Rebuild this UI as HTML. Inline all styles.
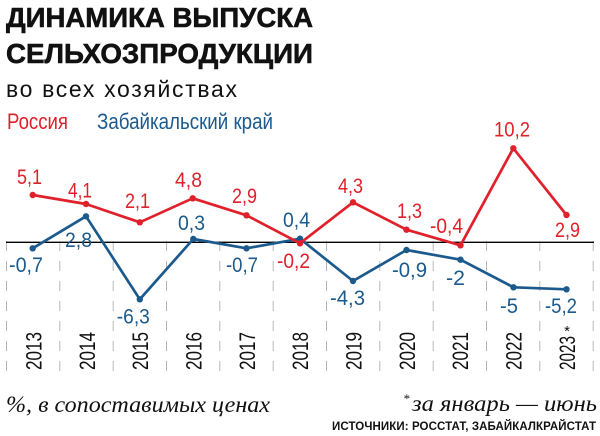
<!DOCTYPE html>
<html>
<head>
<meta charset="utf-8">
<style>
  html, body { margin: 0; padding: 0; background: #ffffff; }
  body { width: 600px; height: 436px; overflow: hidden; }
  svg { display: block; }
  .sans { font-family: "Liberation Sans", "DejaVu Sans", sans-serif; }
  .serif { font-family: "Liberation Serif", "DejaVu Serif", serif; font-style: italic; }
</style>
</head>
<body>
<svg width="600" height="436" viewBox="0 0 600 436" xmlns="http://www.w3.org/2000/svg">
  <rect x="0" y="0" width="600" height="436" fill="#ffffff"/>

  <!-- Title -->
  <text class="sans" x="6" y="27" font-size="28" font-weight="bold" fill="#111" stroke="#111" stroke-width="0.6" textLength="307" lengthAdjust="spacingAndGlyphs">ДИНАМИКА ВЫПУСКА</text>
  <text class="sans" x="6" y="63" font-size="28" font-weight="bold" fill="#111" stroke="#111" stroke-width="0.6" textLength="307" lengthAdjust="spacingAndGlyphs">СЕЛЬХОЗПРОДУКЦИИ</text>
  <text class="sans" x="6" y="97" font-size="23" fill="#111" textLength="231" lengthAdjust="spacing">во всех хозяйствах</text>

  <!-- Legend -->
  <text class="sans" x="7" y="129" font-size="22" fill="#e0202a" textLength="61" lengthAdjust="spacingAndGlyphs">Россия</text>
  <text class="sans" x="97" y="129" font-size="22" fill="#1c5a8d" textLength="176" lengthAdjust="spacingAndGlyphs">Забайкальский край</text>

  <!-- Dashed vertical grid -->
  <g stroke="#b8b8b8" stroke-width="1" stroke-dasharray="10 10">
    <line x1="6.5" y1="241" x2="6.5" y2="372"/>
    <line x1="59.8" y1="241" x2="59.8" y2="372"/>
    <line x1="113.2" y1="241" x2="113.2" y2="372"/>
    <line x1="166.5" y1="241" x2="166.5" y2="372"/>
    <line x1="219.8" y1="241" x2="219.8" y2="372"/>
    <line x1="273.2" y1="241" x2="273.2" y2="372"/>
    <line x1="326.5" y1="241" x2="326.5" y2="372"/>
    <line x1="379.8" y1="241" x2="379.8" y2="372"/>
    <line x1="433.2" y1="241" x2="433.2" y2="372"/>
    <line x1="486.5" y1="241" x2="486.5" y2="372"/>
    <line x1="539.8" y1="241" x2="539.8" y2="372"/>
    <line x1="593.2" y1="241" x2="593.2" y2="372"/>
  </g>

  <!-- Zero line -->
  <line x1="6" y1="242.3" x2="594" y2="242.3" stroke="#000" stroke-width="1.4"/>

  <!-- Blue series -->
  <polyline fill="none" stroke="#1c5a8d" stroke-width="2.7" stroke-linejoin="round"
    points="32.7,248.3 86,216.3 139.8,299.3 193.3,239 246.5,248.3 300,238.7 353,281 406.5,250 460.5,259.7 513.5,287.3 566.5,289.3"/>
  <g fill="#1c5a8d">
    <circle cx="32.7" cy="248.3" r="3.2"/>
    <circle cx="86" cy="216.3" r="3.2"/>
    <circle cx="139.8" cy="299.3" r="3.2"/>
    <circle cx="193.3" cy="239" r="3.2"/>
    <circle cx="246.5" cy="248.3" r="3.2"/>
    <circle cx="300" cy="238.7" r="3.2"/>
    <circle cx="353" cy="281" r="3.2"/>
    <circle cx="406.5" cy="250" r="3.2"/>
    <circle cx="460.5" cy="259.7" r="3.2"/>
    <circle cx="513.5" cy="287.3" r="3.2"/>
    <circle cx="566.5" cy="289.3" r="3.2"/>
  </g>

  <!-- Red series -->
  <polyline fill="none" stroke="#e0202a" stroke-width="2.7" stroke-linejoin="round"
    points="32.7,195 86,204 139.8,222.3 192.7,198.3 246.5,215.3 300,243.3 353,202.3 406.5,229.7 460.5,245.3 513.3,148.3 566.5,215"/>
  <g fill="#e0202a">
    <circle cx="32.7" cy="195" r="3.2"/>
    <circle cx="86" cy="204" r="3.2"/>
    <circle cx="139.8" cy="222.3" r="3.2"/>
    <circle cx="192.7" cy="198.3" r="3.2"/>
    <circle cx="246.5" cy="215.3" r="3.2"/>
    <circle cx="300" cy="243.3" r="3.2"/>
    <circle cx="353" cy="202.3" r="3.2"/>
    <circle cx="406.5" cy="229.7" r="3.2"/>
    <circle cx="460.5" cy="245.3" r="3.2"/>
    <circle cx="513.3" cy="148.3" r="3.2"/>
    <circle cx="566.5" cy="215" r="3.2"/>
  </g>

  <!-- Red labels -->
  <g class="sans" font-size="21" fill="#e0202a" text-anchor="middle">
    <text x="29.5" y="184" textLength="25" lengthAdjust="spacingAndGlyphs">5,1</text>
    <text x="80" y="197.5" textLength="24" lengthAdjust="spacingAndGlyphs">4,1</text>
    <text x="137.5" y="208" textLength="25" lengthAdjust="spacingAndGlyphs">2,1</text>
    <text x="188.5" y="187" textLength="27" lengthAdjust="spacingAndGlyphs">4,8</text>
    <text x="244.5" y="203" textLength="25" lengthAdjust="spacingAndGlyphs">2,9</text>
    <text x="293.5" y="268" textLength="33" lengthAdjust="spacingAndGlyphs">-0,2</text>
    <text x="350.5" y="193" textLength="25" lengthAdjust="spacingAndGlyphs">4,3</text>
    <text x="409.5" y="218" textLength="25" lengthAdjust="spacingAndGlyphs">1,3</text>
    <text x="446.5" y="233" textLength="33" lengthAdjust="spacingAndGlyphs">-0,4</text>
    <text x="512" y="136.7" textLength="36" lengthAdjust="spacingAndGlyphs">10,2</text>
    <text x="567.5" y="237" textLength="25" lengthAdjust="spacingAndGlyphs">2,9</text>
  </g>

  <!-- Blue labels -->
  <g class="sans" font-size="21" fill="#1c5a8d" text-anchor="middle">
    <text x="26" y="272" textLength="34" lengthAdjust="spacingAndGlyphs">-0,7</text>
    <text x="78.5" y="247" textLength="27" lengthAdjust="spacingAndGlyphs">2,8</text>
    <text x="133.3" y="323.5" textLength="33" lengthAdjust="spacingAndGlyphs">-6,3</text>
    <text x="191.5" y="230" textLength="27" lengthAdjust="spacingAndGlyphs">0,3</text>
    <text x="242" y="272" textLength="32" lengthAdjust="spacingAndGlyphs">-0,7</text>
    <text x="296.5" y="227" textLength="27" lengthAdjust="spacingAndGlyphs">0,4</text>
    <text x="347.5" y="305" textLength="35" lengthAdjust="spacingAndGlyphs">-4,3</text>
    <text x="409.5" y="277" textLength="35" lengthAdjust="spacingAndGlyphs">-0,9</text>
    <text x="455.5" y="285" textLength="19" lengthAdjust="spacingAndGlyphs">-2</text>
    <text x="509" y="313" textLength="18" lengthAdjust="spacingAndGlyphs">-5</text>
    <text x="561" y="313" textLength="32" lengthAdjust="spacingAndGlyphs">-5,2</text>
  </g>

  <!-- Year labels (rotated) -->
  <g class="sans" font-size="22" fill="#111">
    <text transform="translate(41.5,370) rotate(-90)" textLength="38" lengthAdjust="spacingAndGlyphs">2013</text>
    <text transform="translate(94.8,370) rotate(-90)" textLength="38" lengthAdjust="spacingAndGlyphs">2014</text>
    <text transform="translate(148.1,370) rotate(-90)" textLength="38" lengthAdjust="spacingAndGlyphs">2015</text>
    <text transform="translate(201.5,370) rotate(-90)" textLength="38" lengthAdjust="spacingAndGlyphs">2016</text>
    <text transform="translate(254.8,370) rotate(-90)" textLength="38" lengthAdjust="spacingAndGlyphs">2017</text>
    <text transform="translate(308.1,370) rotate(-90)" textLength="38" lengthAdjust="spacingAndGlyphs">2018</text>
    <text transform="translate(361.5,370) rotate(-90)" textLength="38" lengthAdjust="spacingAndGlyphs">2019</text>
    <text transform="translate(414.8,370) rotate(-90)" textLength="38" lengthAdjust="spacingAndGlyphs">2020</text>
    <text transform="translate(468.1,370) rotate(-90)" textLength="38" lengthAdjust="spacingAndGlyphs">2021</text>
    <text transform="translate(521.5,370) rotate(-90)" textLength="38" lengthAdjust="spacingAndGlyphs">2022</text>
    <text transform="translate(574.8,370) rotate(-90)" textLength="34" lengthAdjust="spacingAndGlyphs">2023</text>
  </g>
  <text class="sans" x="567" y="336" font-size="15" fill="#111" text-anchor="middle">*</text>

  <!-- Bottom notes -->
  <text class="serif" x="6" y="412" font-size="23" fill="#111" textLength="264" lengthAdjust="spacingAndGlyphs">%, в сопоставимых ценах</text>
  <text class="serif" x="403" y="403" font-size="13" fill="#111" font-style="normal">*</text>
  <text class="serif" x="412" y="411" font-size="23" fill="#111" textLength="185" lengthAdjust="spacingAndGlyphs">за январь — июнь</text>
  <text class="sans" x="332" y="430" font-size="11.5" font-weight="bold" fill="#111" textLength="264" lengthAdjust="spacing">ИСТОЧНИКИ: РОССТАТ, ЗАБАЙКАЛКРАЙСТАТ</text>
</svg>
</body>
</html>
